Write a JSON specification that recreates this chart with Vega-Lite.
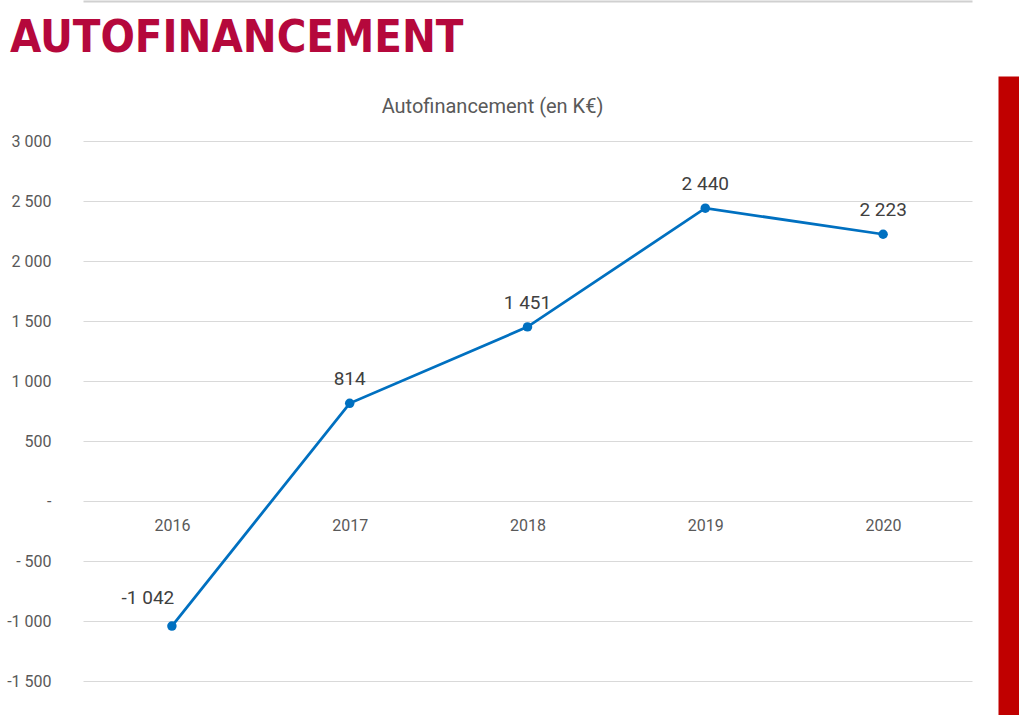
{
  "$schema": "https://vega.github.io/schema/vega-lite/v6.json",
  "width": 889,
  "height": 639,
  "autosize": {"type": "none"},
  "padding": {"left": 83, "top": 76, "right": 47, "bottom": 0},
  "background": "white",
  "title": {
    "text": "AUTOFINANCEMENT",
    "anchor": "start",
    "frame": "group",
    "dx": -73,
    "dy": 120,
    "offset": 24,
    "baseline": "alphabetic",
    "font": "DejaVu Sans Condensed, Roboto, sans-serif",
    "fontSize": 45,
    "fontWeight": "bold",
    "color": "#b5083c"
  },
  "config": {
    "view": {"stroke": null},
    "locale": {
      "number": {"decimal": ",", "thousands": " ", "grouping": [3], "currency": ["", " €"], "minus": "-"}
    }
  },
  "data": {
    "values": [
      {"year": "2016", "value": -1042},
      {"year": "2017", "value": 814},
      {"year": "2018", "value": 1451},
      {"year": "2019", "value": 2440},
      {"year": "2020", "value": 2223}
    ]
  },
  "layer": [
    {
      "mark": {"type": "line", "color": "#0070c0", "strokeWidth": 2.75},
      "encoding": {
        "x": {
          "field": "year", "type": "ordinal",
          "scale": {"type": "point", "padding": 0.5},
          "axis": {
            "orient": "bottom", "offset": -214, "title": null, "labelAngle": 0,
            "domain": false, "ticks": false, "labelPadding": 16,
            "labelFont": "Roboto", "labelFontSize": 16, "labelColor": "#595959"
          }
        },
        "y": {
          "field": "value", "type": "quantitative",
          "scale": {"domain": [-1783.333, 3541.667], "nice": false, "zero": false},
          "axis": {
            "orient": "left", "title": null, "values": [-1500, -1000, -500, 0, 500, 1000, 1500, 2000, 2500, 3000],
            "labelExpr": "datum.value == 0 ? '-' : ((datum.value < 0 ? (datum.value > -1000 ? '- ' : '-') : '') + replace(format(abs(datum.value), ','), ',', ' '))",
            "domain": false, "ticks": false, "labelPadding": 32,
            "grid": true, "gridColor": "#d9d9d9", "gridWidth": 1,
            "labelFont": "Roboto", "labelFontSize": 16, "labelColor": "#595959"
          }
        }
      }
    },
    {
      "mark": {"type": "point", "filled": true, "color": "#0070c0", "size": 90, "opacity": 1},
      "encoding": {
        "x": {"field": "year", "type": "ordinal", "scale": {"type": "point", "padding": 0.5}, "axis": null},
        "y": {"field": "value", "type": "quantitative", "axis": null}
      }
    },
    {
      "transform": [{"filter": "datum.value >= 0"}],
      "mark": {"type": "text", "dy": -24, "baseline": "middle", "align": "center", "font": "Roboto", "fontSize": 19, "color": "#404040"},
      "encoding": {
        "text": {"field": "value", "type": "quantitative", "format": ",d"},
        "x": {
          "field": "year", "type": "ordinal", "scale": {"type": "point", "padding": 0.5},
          "axis": {
            "orient": "top", "offset": 75, "labels": false, "ticks": false,
            "domain": true, "domainColor": "#d0d0d0", "domainWidth": 2,
            "title": "Autofinancement (en K€)", "titleX": 409, "titleY": 105,
            "titleAlign": "center", "titleBaseline": "middle",
            "titleFont": "Roboto", "titleFontSize": 20, "titleFontWeight": "normal", "titleColor": "#595959"
          }
        },
        "y": {
          "field": "value", "type": "quantitative",
          "axis": {
            "orient": "right", "offset": 36.5, "title": null, "labels": false, "ticks": false, "grid": false,
            "domain": true, "domainColor": "#c00000", "domainWidth": 21
          }
        }
      }
    },
    {
      "transform": [{"filter": "datum.value < 0"}],
      "mark": {"type": "text", "dy": -28, "dx": -24, "baseline": "middle", "align": "center", "font": "Roboto", "fontSize": 19, "color": "#404040"},
      "encoding": {
        "text": {"field": "value", "type": "quantitative", "format": ",d"},
        "x": {"field": "year", "type": "ordinal", "scale": {"type": "point", "padding": 0.5}, "axis": null},
        "y": {"field": "value", "type": "quantitative", "axis": null}
      }
    }
  ],
  "resolve": {"axis": {"x": "independent", "y": "independent"}}
}
